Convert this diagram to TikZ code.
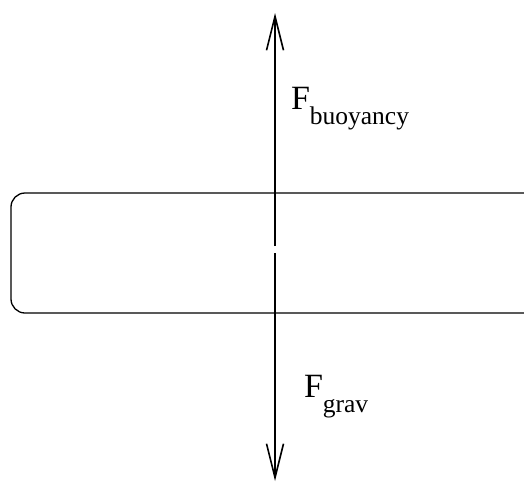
\documentclass[tikz,border=0pt]{standalone}
\usepackage{fontspec}
\setmainfont{Liberation Serif}
\usetikzlibrary{arrows.meta}
\tikzset{
  force/.style={line width=1.6pt, -{Straight Barb[length=34pt,width=17pt,line width=1.6pt]}},
  body/.style={line width=1.3pt, rounded corners=14pt},
  flabel/.style={anchor=base west, inner sep=0pt, outer sep=0pt}
}
\newcommand{\forcelab}[2]{{\fontsize{34}{40}\selectfont #1\raisebox{-15pt}{\fontsize{25.5}{30}\selectfont #2}}}
\begin{document}
\begin{tikzpicture}[x=1pt,y=-1pt]
\useasboundingbox (0,0) rectangle (524,482);
\clip (0,0) rectangle (524,482);
\draw[body] (540,193) -- (11,193) -- (11,313) -- (540,313);
\coordinate (midtop) at (275,246);
\coordinate (top) at (275,13);
\coordinate (midbot) at (275,253);
\coordinate (bot) at (275,481);
\draw[force] (midtop) -- (top);
\draw[force] (midbot) -- (bot);
\node[flabel] (fb) at (291,109) {\forcelab{F}{buoyancy}};
\node[flabel] (fg) at (304,397) {\forcelab{F}{grav}};
\end{tikzpicture}
\end{document}
